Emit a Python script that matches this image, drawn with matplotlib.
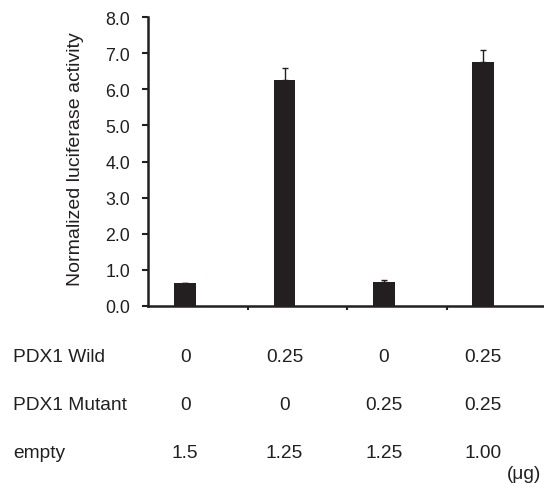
import matplotlib
matplotlib.use("Agg")
import matplotlib.pyplot as plt
import matplotlib.transforms as mtransforms
import numpy as np

# values
means = [0.62, 6.27, 0.65, 6.77]
errors = [0.02, 0.32, 0.05, 0.33]
row_labels = ["PDX1 Wild", "PDX1 Mutant", "empty"]
wild = ["0", "0.25", "0", "0.25"]
mutant = ["0", "0", "0.25", "0.25"]
empty = ["1.5", "1.25", "1.25", "1.00"]
yticks = [0.0, 1.0, 2.0, 3.0, 4.0, 5.0, 6.0, 7.0, 8.0]

W, H = 544, 485
dark = "#231f20"
plt.rcParams["font.family"] = ["Liberation Sans", "DejaVu Sans"]
plt.rcParams["font.size"] = 13.8

fig = plt.figure(figsize=(W / 100, H / 100), dpi=100)
ax = fig.add_axes([148.3 / W, (H - 306.7) / H, (543 - 148.3) / W, (306.7 - 18.3) / H])

x = np.arange(len(means)) + 0.37
ax.bar(x, means, width=0.22, color=dark, zorder=2)
ax.errorbar(x, means, yerr=[np.zeros(len(errors)), errors], fmt="none",
            ecolor=dark, elinewidth=1.0, capsize=2.5, capthick=1.0, zorder=1)

ax.set_xlim(0, 3.97)
ax.set_ylim(0, 8)
ax.set_yticks(yticks)
ax.set_yticklabels([f"{v:.1f}" for v in yticks], color=dark, fontsize=12.8)
ax.set_xticks([1, 2, 3])
ax.set_xticklabels([])
for s in ["top", "right"]:
    ax.spines[s].set_visible(False)
for s in ["left", "bottom"]:
    ax.spines[s].set_linewidth(1.8)
    ax.spines[s].set_color(dark)
ax.tick_params(axis="y", direction="out", length=4, width=1.5, pad=9, colors=dark)
ax.tick_params(axis="x", direction="out", length=3, width=1.5, colors=dark)

fig.text(75 / W, 1 - 159 / H, "Normalized luciferase activity",
         rotation=90, ha="center", va="center", color=dark, fontsize=14)

# table below the chart
trans = mtransforms.blended_transform_factory(ax.transData, fig.transFigure)
row_y = [358, 406, 454]
for label, vals, yp in zip(row_labels, [wild, mutant, empty], row_y):
    fig.text(13 / W, 1 - yp / H, label, ha="left", va="center", color=dark)
    for xi, v in zip(x, vals):
        ax.text(xi, 1 - yp / H, v, transform=trans, ha="center", va="center",
                color=dark, clip_on=False)
fig.text(541 / W, 1 - 475 / H, "(μg)", ha="right", va="center", color=dark)

fig.savefig("out.png", dpi=100)
